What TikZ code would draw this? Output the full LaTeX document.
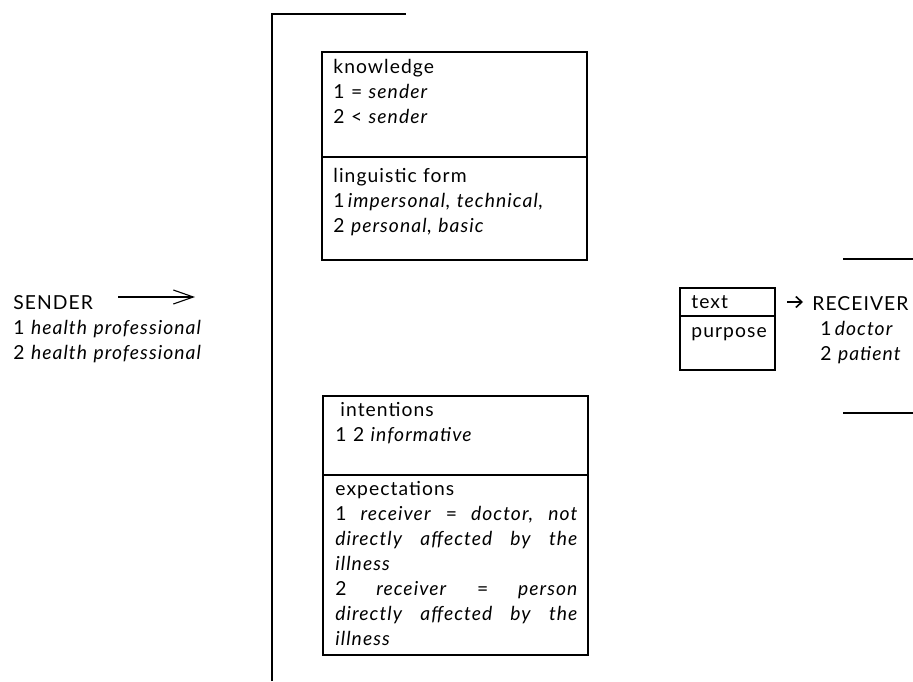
\documentclass[tikz,border=0pt]{standalone}
\usepackage{fontspec}
\setmainfont{Lato}[LetterSpace=5.5]
\usetikzlibrary{positioning, arrows.meta}

\begin{document}
\begin{tikzpicture}[x=1pt, y=-1pt, thick, font=\fontsize{19.3}{25}\selectfont]
        % Define block styles
        \tikzstyle{cell} = [rectangle, draw, line width=1.2pt, inner sep=0pt, outer sep=0pt, minimum width=265pt]
        \tikzstyle{celltext} = [inner sep=0pt, anchor=base west, text width=243pt, align=left]
        \tikzstyle{frame} = [line width=1.4pt]

        % Keep the page size of the reference
        \useasboundingbox (0,0) rectangle (913,681);

        % Place the boxes
        \node [cell, anchor=north west, minimum height=105pt] (knowledge) at (322,52) {};
        \node [cell, minimum height=103pt, below=0pt of knowledge] (form) {};
        \node [cell, anchor=north west, minimum height=79pt] (intentions) at (323,396) {};
        \node [cell, minimum height=180pt, below=0pt of intentions] (expectations) {};
        \node [cell, anchor=north west, minimum width=95pt, minimum height=28pt] (textcell) at (680,288) {};
        \node [cell, minimum width=95pt, minimum height=54pt, below=0pt of textcell] (purpose) {};

        % Fill in the boxes
        \node [celltext] at ([shift={(11,21)}]knowledge.north west) {knowledge\\1 = \textit{sender}\\2 < \textit{sender}};
        \node [celltext] at ([shift={(11,25)}]form.north west) {linguistic form\\1\,\textit{impersonal, technical,}\\2 \textit{personal, basic}};
        \node [celltext] at ([shift={(12,20)}]intentions.north west) {\hspace*{5pt}intentions\\1 2 \textit{informative}};
        \node [celltext] at ([shift={(12,20)}]expectations.north west) {expectations\\
            1\hfill\textit{receiver}\hfill=\hfill\textit{doctor,}\hfill\textit{not}\\
            \textit{directly}\hfill\textit{affected}\hfill\textit{by}\hfill\textit{the}\\
            \textit{illness}\\
            2\hfill\textit{receiver}\hfill=\hfill\textit{person}\\
            \textit{directly}\hfill\textit{affected}\hfill\textit{by}\hfill\textit{the}\\
            \textit{illness}};
        \node [celltext, text width=80pt] at ([shift={(11,20)}]textcell.north west) {text};
        \node [celltext, text width=80pt] at ([shift={(11,21)}]purpose.north west) {purpose};

        % Sender and receiver
        \node [celltext, text width=200pt] (sender) at (13,309) {SENDER\\1 \textit{health professional}\\2 \textit{health professional}};
        \node [celltext, text width=100pt] (receiver) at (812,310) {RECEIVER\\\hspace*{8pt}1\,\textit{doctor}\\\hspace*{8pt}2 \textit{patient}};

        % Draw connections as arrows
        \coordinate (sendertail) at (118,297);
        \coordinate (senderhead) at (195,297);
        \draw [-{Straight Barb[length=20pt, width=14pt]}, line width=1.1pt] (sendertail) -- (senderhead);
        \draw [-{Straight Barb[length=6pt, width=11pt]}, line width=1.6pt] ([xshift=12pt]textcell.east) -- ([xshift=28pt]textcell.east);

        % Frame lines round the boxes
        \draw [frame] (272,681) -- (272,14) -- (406,14);
        \draw [frame] (843,259) -- (913,259);
        \draw [frame] (843,413) -- (913,413);
    \end{tikzpicture}
\end{document}
